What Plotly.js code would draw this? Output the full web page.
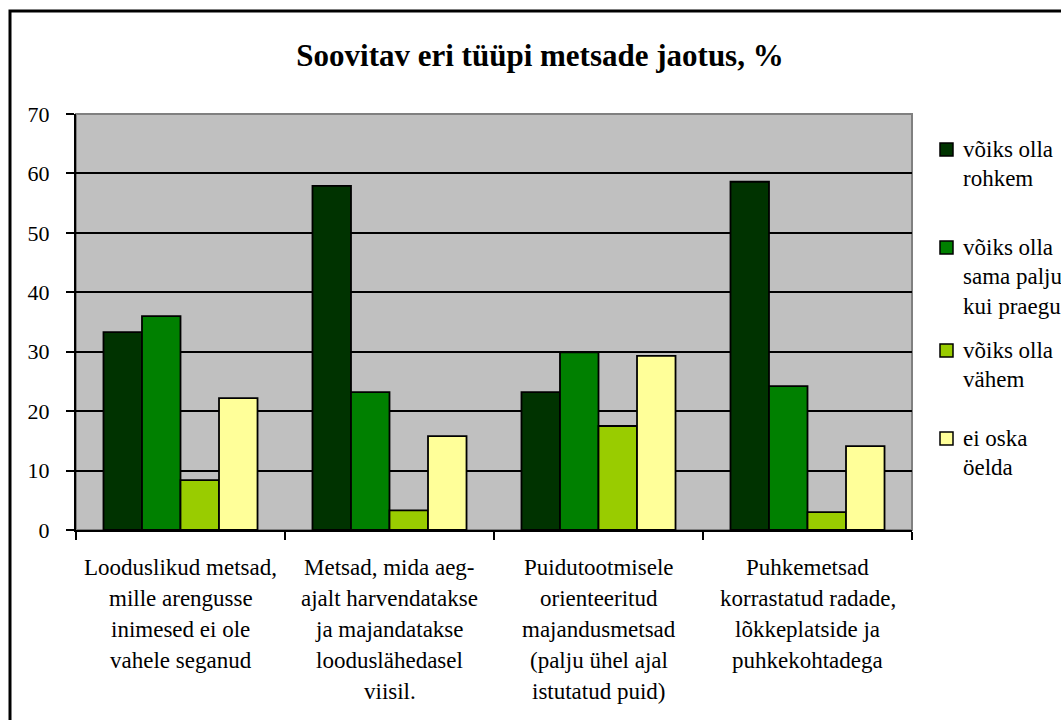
<!DOCTYPE html>
<html>
<head>
<meta charset="utf-8">
<script src="https://cdn.plot.ly/plotly-3.0.1.min.js"></script>
<style>html,body{margin:0;padding:0;background:#fff;}#chart{width:1061px;height:720px;}</style>
</head>
<body>
<div id="chart"></div>
<script>
// ---- data ----
const categoryLines = [
  ["Looduslikud metsad,", "mille arengusse", "inimesed ei ole", "vahele seganud"],
  ["Metsad, mida aeg-", "ajalt harvendatakse", "ja majandatakse", "loodusl\u00e4hedasel", "viisil."],
  ["Puidutootmisele", "orienteeritud", "majandusmetsad", "(palju \u00fchel ajal", "istutatud puid)"],
  ["Puhkemetsad", "korrastatud radade,", "l\u00f5kkeplatside ja", "puhkekohtadega"]
];
const categories = ["c1", "c2", "c3", "c4"];
const seriesNames = [
  ["v\u00f5iks olla", "rohkem"],
  ["v\u00f5iks olla", "sama palju", "kui praegu"],
  ["v\u00f5iks olla", "v\u00e4hem"],
  ["ei oska", "\u00f6elda"]
];
const seriesColors = ["#003300", "#008000", "#99CC00", "#FFFF99"];
const rohkem   = [33.3, 57.9, 23.2, 58.6];
const samaPalju = [36.0, 23.2, 29.9, 24.2];
const vahem    = [8.4, 3.3, 17.5, 3.0];
const eiOska   = [22.2, 15.8, 29.3, 14.1];
const seriesValues = [rohkem, samaPalju, vahem, eiOska];
const yTicks = [0, 10, 20, 30, 40, 50, 60, 70];
const titleText = "Soovitav eri t\u00fc\u00fcpi metsade jaotus, %";

// ---- layout helpers (pixel -> paper) ----
const L = 76, R = 912, T = 114, B = 530;
const W = R - L, H = B - T;
const px = x => (x - L) / W;
const py = y => (B - y) / H;
const FONT = "Liberation Serif, Times New Roman, serif";

const traces = seriesValues.map((vals, i) => ({
  type: "bar",
  name: seriesNames[i].join(" "),
  x: categories,
  y: vals,
  marker: { color: seriesColors[i], line: { color: "#000", width: 1.8 } },
  showlegend: false,
  hoverinfo: "skip"
}));

const shapes = [
  { type: "rect", xref: "paper", yref: "paper", x0: px(10), x1: px(1075), y0: py(11), y1: py(735),
    line: { color: "#000", width: 3 }, fillcolor: "rgba(0,0,0,0)", layer: "above" },
  { type: "rect", xref: "paper", yref: "paper", x0: 0, x1: 1, y0: 0, y1: 1,
    line: { color: "#808080", width: 2 }, fillcolor: "rgba(0,0,0,0)", layer: "below" }
];
const annotations = [];

const legendFirstLine = [149, 247, 350, 438];
seriesNames.forEach((lines, i) => {
  const yc = legendFirstLine[i];
  shapes.push({ type: "rect", xref: "paper", yref: "paper",
    x0: px(940), x1: px(953), y0: py(yc - 6), y1: py(yc + 7),
    fillcolor: seriesColors[i], line: { color: "#000", width: 1.5 } });
  lines.forEach((t, k) => {
    annotations.push({ xref: "paper", yref: "paper", x: px(961), y: py(yc + k * 29.5),
      xanchor: "left", yanchor: "middle", text: t, showarrow: false,
      font: { family: FONT, size: 23, color: "#000" } });
  });
});

const catFirstLine = 567, catLineGap = 31;
categoryLines.forEach((lines, ci) => {
  lines.forEach((t, k) => {
    annotations.push({ xref: "x", yref: "paper", x: categories[ci], y: py(catFirstLine + k * catLineGap),
      xanchor: "center", yanchor: "middle", text: t, showarrow: false,
      font: { family: FONT, size: 23, color: "#000" } });
  });
});

const layout = {
  width: 1061, height: 720,
  margin: { l: L, r: 1061 - R, t: T, b: 720 - B, pad: 0 },
  paper_bgcolor: "#fff",
  plot_bgcolor: "#C0C0C0",
  font: { family: FONT, size: 22, color: "#000" },
  title: { text: "<b>" + titleText + "</b>", x: px(540), xanchor: "center", y: 1 - 55 / 720, yanchor: "middle",
    xref: "paper", font: { family: FONT, size: 31, color: "#000" } },
  barmode: "group",
  bargap: 0.263,
  bargroupgap: 0,
  showlegend: false,
  xaxis: {
    type: "category",
    categoryarray: categories,
    showticklabels: false,
    ticks: "outside", tickson: "boundaries", ticklen: 8, tickwidth: 2, tickcolor: "#000",
    showline: true, linecolor: "#000", linewidth: 2,
    showgrid: false, zeroline: false, fixedrange: true
  },
  yaxis: {
    range: [0, 70],
    tickvals: yTicks,
    ticktext: yTicks.map(String),
    ticks: "outside", ticklen: 8, tickwidth: 2, tickcolor: "#000",
    showline: true, linecolor: "#000", linewidth: 2,
    showgrid: true, gridcolor: "#000", gridwidth: 2,
    zeroline: false,
    tickfont: { family: FONT, size: 22, color: "#000" },
    ticklabelstandoff: 12,
    fixedrange: true
  },
  shapes: shapes,
  annotations: annotations
};

Plotly.newPlot("chart", traces, layout, { displayModeBar: false, staticPlot: true });
</script>
</body>
</html>
